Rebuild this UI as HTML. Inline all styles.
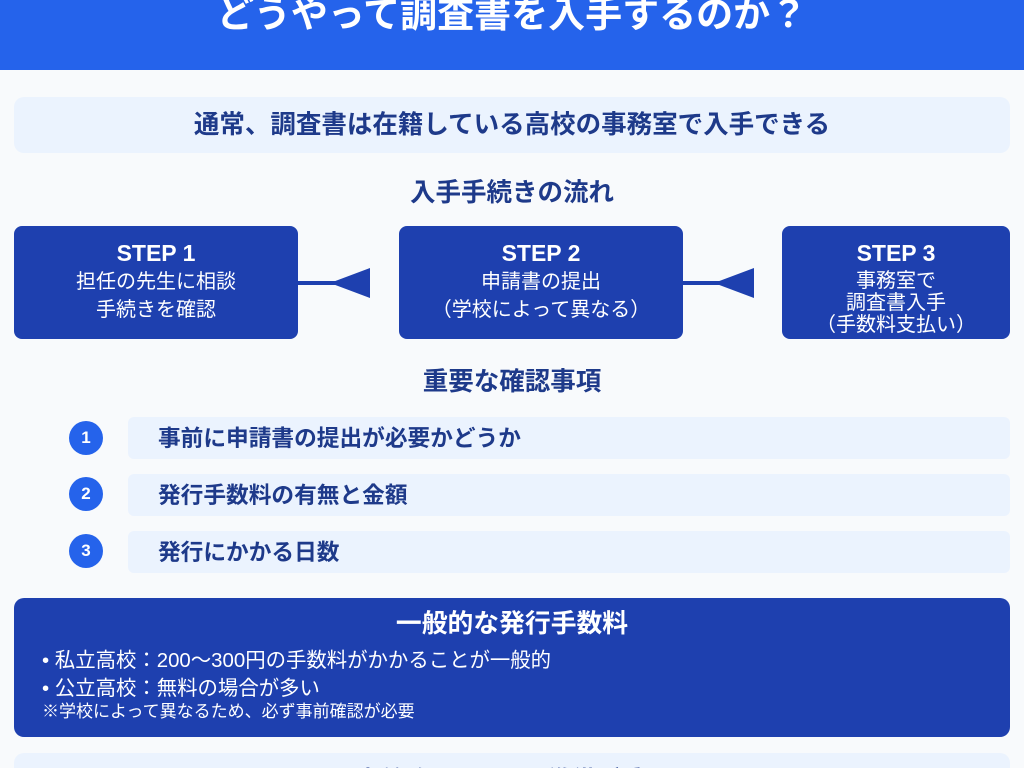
<!DOCTYPE html>
<html><head><meta charset="utf-8"><style>
*{margin:0;padding:0;box-sizing:border-box}
html,body{width:1024px;height:768px;overflow:hidden}
body{background:#f8fafc;font-family:"Liberation Sans","Noto Sans CJK JP",sans-serif;position:relative}
.a{position:absolute}
.c{text-align:center}
.hdr{left:0;top:0;width:1024px;height:70px;background:#2563eb}
.lt{background:#ebf3fe;border-radius:10px}
.dk{background:#1e40af;border-radius:8px;color:#fff}
.step{text-align:center;color:#fff}
.step b{display:block;font-size:23px;line-height:26px;margin-top:14px;margin-bottom:2px}
.step div{font-size:20px;line-height:28px}
.num{width:34px;height:34px;border-radius:50%;background:#2563eb;color:#fff;font-size:17px;font-weight:bold;text-align:center;line-height:34px}
.bar{left:128px;width:882px;height:42px;color:#1e3a8a;font-size:22.7px;font-weight:bold;line-height:42px;padding-left:30px}
</style></head><body>
<div class="a hdr"></div>
<div class="a c" style="left:0;width:1024px;top:-10px;font-size:37px;font-weight:bold;color:#fff;line-height:50px">どうやって調査書を入手するのか？</div>
<div class="a lt c" style="left:14px;top:97px;width:996px;height:56px;line-height:56px;font-size:25.5px;font-weight:bold;color:#1e3a8a">通常、調査書は在籍している高校の事務室で入手できる</div>
<div class="a c" style="left:0;width:1024px;top:178px;font-size:25.5px;font-weight:bold;color:#1e3a8a;line-height:30px">入手手続きの流れ</div>
<div class="a dk step" style="left:14px;top:226px;width:284px;height:113px"><b>STEP 1</b><div>担任の先生に相談</div><div>手続きを確認</div></div>
<div class="a dk step" style="left:399px;top:226px;width:284px;height:113px"><b>STEP 2</b><div>申請書の提出</div><div>（学校によって異なる）</div></div>
<div class="a dk step" style="left:782px;top:226px;width:228px;height:113px"><b>STEP 3</b><div style="line-height:22px;margin-top:4px">事務室で<br>調査書入手<br>（手数料支払い）</div></div>
<svg class="a" style="left:0;top:0" width="1024" height="768">
<line x1="298" y1="283" x2="340" y2="283" stroke="#1e40af" stroke-width="4"/>
<polygon points="330,283 370,268 370,298" fill="#1e40af"/>
<line x1="683" y1="283" x2="725" y2="283" stroke="#1e40af" stroke-width="4"/>
<polygon points="714,283 754,268 754,298" fill="#1e40af"/>
</svg>
<div class="a c" style="left:0;width:1024px;top:367px;font-size:25.5px;font-weight:bold;color:#1e3a8a;line-height:30px">重要な確認事項</div>
<div class="a num" style="left:69px;top:421px">1</div>
<div class="a lt bar" style="top:417px;border-radius:6px">事前に申請書の提出が必要かどうか</div>
<div class="a num" style="left:69px;top:477px">2</div>
<div class="a lt bar" style="top:474px;border-radius:6px">発行手数料の有無と金額</div>
<div class="a num" style="left:69px;top:534px">3</div>
<div class="a lt bar" style="top:531px;border-radius:6px">発行にかかる日数</div>
<div class="a dk" style="left:14px;top:598px;width:996px;height:139px;border-radius:10px">
<div class="c" style="font-size:25.8px;font-weight:bold;margin-top:11px;line-height:30px">一般的な発行手数料</div>
<div style="position:absolute;left:28px;top:49px;font-size:20.4px;line-height:28px">• 私立高校：200〜300円の手数料がかかることが一般的<br>• 公立高校：無料の場合が多い</div>
<div style="position:absolute;left:28px;top:103px;font-size:17px;line-height:22px">※学校によって異なるため、必ず事前確認が必要</div>
</div>
<div class="a lt c" style="left:14px;top:753px;width:996px;height:15px;overflow:hidden;border-radius:10px 10px 0 0;font-size:24px;font-weight:bold;color:#1e3a8a;line-height:40px;padding-top:8px">事前確認と早めの準備が重要</div>
</body></html>
